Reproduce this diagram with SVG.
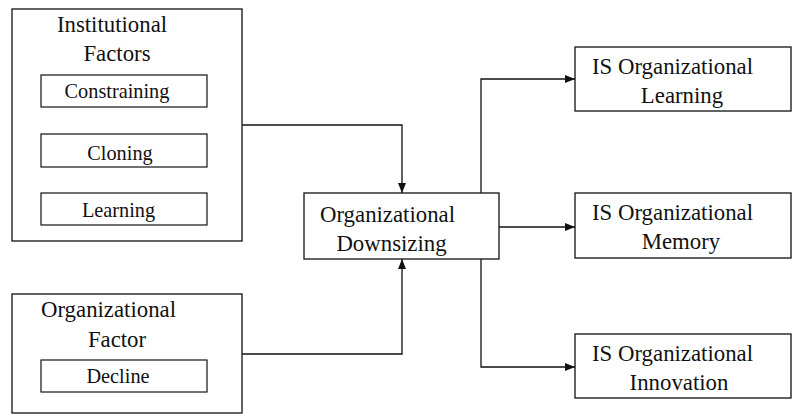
<svg xmlns="http://www.w3.org/2000/svg" width="792" height="414" viewBox="0 0 792 414">
<style>
.box{fill:#fff;stroke:#222;stroke-width:1.4}
.sub{fill:#fff;stroke:#111;stroke-width:1.2}
.t{font-family:"Liberation Serif","Times New Roman",serif;font-size:22.8px;fill:#111}
.s{font-family:"Liberation Serif","Times New Roman",serif;font-size:20.3px;fill:#111}
.c{text-anchor:middle}
.ln{fill:none;stroke:#111;stroke-width:1.3}
</style>
<defs>
<marker id="ah" markerWidth="10" markerHeight="8" refX="10" refY="4" orient="auto" markerUnits="userSpaceOnUse">
<path d="M0,0 L10,4 L0,8 Z" fill="#111"/>
</marker>
</defs>
<rect width="792" height="414" fill="#fff"/>
<g id="connectors">
<path class="ln" d="M242,125 H402 V193" marker-end="url(#ah)"/>
<path class="ln" d="M242,354 H402 V259" marker-end="url(#ah)"/>
<path class="ln" d="M481,193 V79 H575" marker-end="url(#ah)"/>
<path class="ln" d="M499,227 H575" marker-end="url(#ah)"/>
<path class="ln" d="M481,259 V367 H575" marker-end="url(#ah)"/>
</g>
<g id="institutional">
<rect class="box" x="12" y="9" width="230" height="232"/>
<text class="t c" x="112" y="32">Institutional</text>
<text class="t c" x="117" y="61">Factors</text>
<g id="constraining">
<rect class="sub" x="41" y="75" width="166" height="32"/>
<text class="s c" x="117" y="98">Constraining</text>
</g>
<g id="cloning">
<rect class="sub" x="41" y="134" width="166" height="33"/>
<text class="s c" x="120" y="160">Cloning</text>
</g>
<g id="learning">
<rect class="sub" x="41" y="193" width="166" height="32"/>
<text class="s c" x="118.5" y="217">Learning</text>
</g>
</g>
<g id="organizational-factor">
<rect class="box" x="12" y="294" width="230" height="119"/>
<text class="t c" x="108.5" y="317">Organizational</text>
<text class="t c" x="117" y="347">Factor</text>
<g id="decline">
<rect class="sub" x="41" y="360" width="166" height="32"/>
<text class="s c" x="118" y="383">Decline</text>
</g>
</g>
<g id="downsizing">
<rect class="box" x="304" y="193" width="195" height="66"/>
<text class="t c" x="387.5" y="222">Organizational</text>
<text class="t c" x="391.5" y="251">Downsizing</text>
</g>
<g id="is-learning">
<rect class="box" x="575" y="47" width="216" height="64"/>
<text class="t" x="592" y="74">IS Organizational</text>
<text class="t c" x="682" y="103">Learning</text>
</g>
<g id="is-memory">
<rect class="box" x="575" y="193" width="216" height="65"/>
<text class="t" x="592" y="220">IS Organizational</text>
<text class="t c" x="681" y="249">Memory</text>
</g>
<g id="is-innovation">
<rect class="box" x="575" y="334" width="216" height="64"/>
<text class="t" x="592" y="361">IS Organizational</text>
<text class="t c" x="679" y="390">Innovation</text>
</g>
</svg>
